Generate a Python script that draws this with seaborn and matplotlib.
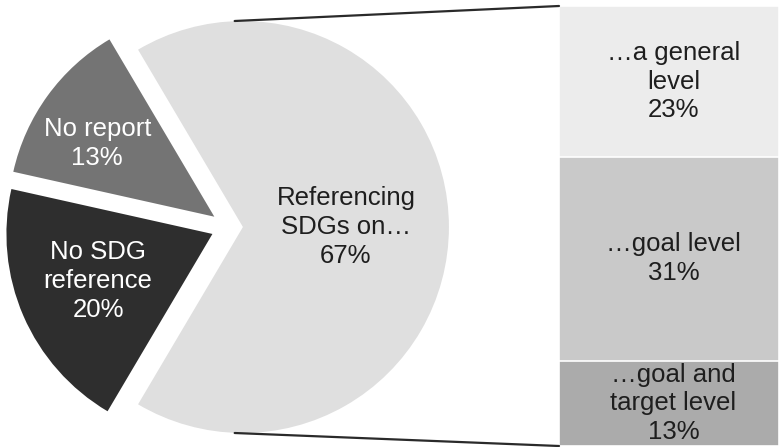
import matplotlib
matplotlib.use("Agg")
import matplotlib.pyplot as plt
from matplotlib.patches import ConnectionPatch
import numpy as np
import seaborn as sns

# Share of companies by reporting status
pie_labels = ["Referencing\nSDGs on…", "No report", "No SDG\nreference"]
pie_values = [67, 13, 20]
pie_colors = ["#dfdfdf", "#747474", "#2e2e2e"]
pie_text_colors = ["#1e1e1e", "white", "white"]

# Breakdown of the "Referencing SDGs" slice, bottom to top
bar_labels = ["…goal and\ntarget level", "…goal level", "…a general\nlevel"]
bar_values = [13, 31, 23]
bar_colors = ["#ababab", "#c9c9c9", "#ececec"]

sns.set_theme(style="white")
plt.rcParams["font.family"] = ["Liberation Sans", "DejaVu Sans"]

W, H = 779, 447
fig = plt.figure(figsize=(W / 100, H / 100), dpi=100)

# ---- pie -------------------------------------------------------------
PX = 206.0             # pixels per unit radius
CX, CY = 228.5, 227.0  # pie centre in pixels (from left / from top)
ax_pie = fig.add_axes([0, 0, 1, 1])
wedges, _ = ax_pie.pie(
    pie_values,
    colors=pie_colors,
    startangle=-pie_values[0] * 3.6 / 2,
    counterclock=True,
    explode=[0.07, 0.085, 0.085],
    radius=1.0,
    wedgeprops=dict(linewidth=0),
)
ax_pie.set_xlim(-CX / PX, (W - CX) / PX)
ax_pie.set_ylim(-(H - CY) / PX, CY / PX)
ax_pie.set_aspect("auto")
ax_pie.axis("off")

# label radius and angular shift (degrees) relative to each slice's middle
label_r = [0.5, 0.67, 0.6]
label_shift = [0, 4, -1]
for w, lab, val, tc, r, sh in zip(wedges, pie_labels, pie_values,
                                   pie_text_colors, label_r, label_shift):
    mid = np.deg2rad((w.theta1 + w.theta2) / 2 + sh)
    cx, cy = w.center
    ax_pie.text(cx + r * np.cos(mid), cy + r * np.sin(mid), f"{lab}\n{val}%",
                ha="center", va="center", multialignment="center",
                fontsize=18.5, color=tc, linespacing=1.25)

# ---- stacked bar -----------------------------------------------------
bx0, by0 = 559, 1
ax_bar = fig.add_axes([bx0 / W, by0 / H, (W - bx0) / W, (H - 7) / H])
cum = np.cumsum(bar_values)
for top, col in reversed(list(zip(cum, bar_colors))):
    sns.barplot(x=[0], y=[top], color=col, width=1.0, saturation=1,
                edgecolor="white", linewidth=1.2, ax=ax_bar)
ax_bar.set_xlim(-0.5, 0.5)
ax_bar.set_ylim(0, cum[-1])
ax_bar.axis("off")

for top, val, lab in zip(cum, bar_values, bar_labels):
    ax_bar.text(0.02, top - val / 2, f"{lab}\n{val}%", ha="center", va="center",
                multialignment="center", fontsize=18.5, color="#1e1e1e",
                linespacing=1.25)

# ---- connector lines between the main slice and the bar ---------------
main = wedges[0]
mx, my = main.center
for yb, ys in [(cum[-1], 1.0), (0, -1.0)]:
    con = ConnectionPatch(xyA=(mx - 0.04, my + ys * main.r), coordsA=ax_pie.transData,
                          xyB=(-0.5, yb), coordsB=ax_bar.transData,
                          color="#2a2a2a", linewidth=1.6)
    fig.add_artist(con)

fig.savefig("out.png", dpi=100)
